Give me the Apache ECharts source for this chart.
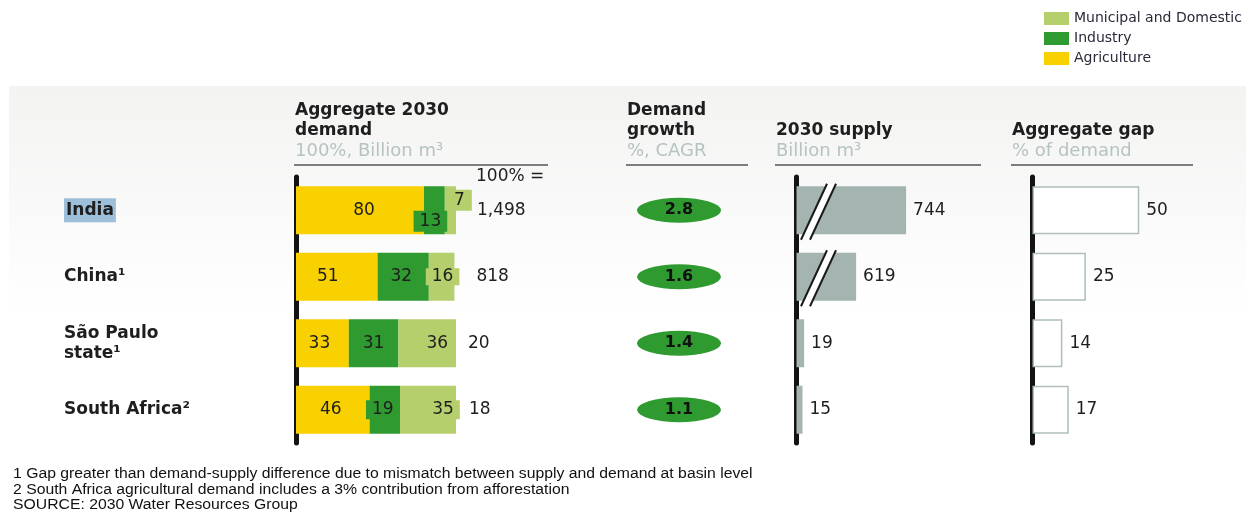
<!DOCTYPE html>
<html>
<head>
<meta charset="utf-8">
<title>2030 water demand and supply</title>
<script src="https://cdn.jsdelivr.net/npm/echarts@6/dist/echarts.min.js"></script>
<style>
  html, body { margin: 0; padding: 0; background: #ffffff; }
  #chart { width: 1246px; height: 512px; }
</style>
</head>
<body>
<div id="chart"></div>
<script>
// Regions, top to bottom
const regions = ['India', 'China¹', 'São Paulo\nstate¹', 'South Africa²'];

// Aggregate 2030 demand, share by sector (%)
const agriculture = [80, 51, 33, 46];
const industry = [13, 32, 31, 19];
const municipal = [7, 16, 36, 35];

// Aggregate 2030 demand, billion m³
const totalDemand = [1498, 818, 20, 18];

// Demand growth, % CAGR
const demandGrowth = [2.8, 1.6, 1.4, 1.1];

// 2030 supply, billion m³
const supply2030 = [744, 619, 19, 15];

// Aggregate gap, % of demand
const aggregateGap = [50, 25, 14, 17];

// Collapsed stretch of the supply axis
const supplyBreak = { start: 55, end: 525 };

const sectorNames = ['Agriculture', 'Industry', 'Municipal and Domestic'];

const COLORS = {
  agriculture: '#f9d000',
  industry: '#2f9a30',
  municipal: '#b6cf6d',
  growth: '#2f9a30',
  supply: '#a4b4b1',
  gapBorder: '#aebfbd',
  axis: '#131313',
  text: '#1e1e1e',
  sub: '#b6c3c3',
  rule: '#555555'
};
const FONT = '"DejaVu Sans", sans-serif';
const NOTE_FONT = '"Liberation Sans", Arial, sans-serif';

// Per-segment label placement inside the stacked demand bars
const segLabel = {
  agriculture: { 0: { offset: [4, 0] }, 1: { offset: [-9, 0] }, 2: { offset: [-3, 0] }, 3: { offset: [-2, 0] } },
  industry: {
    0: { offset: [-4, 11], backgroundColor: COLORS.industry, padding: [2, 6] },
    1: { offset: [-2, 0] },
    3: { offset: [-2, 0], backgroundColor: COLORS.industry, padding: [1, 6] }
  },
  municipal: {
    0: { offset: [9, -10], backgroundColor: COLORS.municipal, padding: [2, 7] },
    1: { offset: [1, 0], backgroundColor: COLORS.municipal, padding: [0, 6] },
    2: { offset: [10, 0] },
    3: { offset: [15, 0], backgroundColor: COLORS.municipal, padding: [1, 6] }
  }
};
const totalLabelGap = [21, 22, 12, 13];

function segData(values, key) {
  return values.map((v, i) => {
    const extra = segLabel[key][i];
    return extra ? { value: v, label: extra } : v;
  });
}

const rowsTop = 177;
const rowsHeight = 266;
const barWidth = 48;

function rowAxis(gridIndex, withLine) {
  return {
    type: 'category',
    gridIndex: gridIndex,
    data: regions,
    inverse: true,
    offset: withLine ? 2.5 : 0,
    axisLine: { show: withLine, lineStyle: { color: COLORS.axis, width: 5 } },
    axisTick: { show: false },
    axisLabel: { show: false },
    splitLine: { show: false }
  };
}

const hiddenValueAxis = (gridIndex, min, max) => ({
  type: 'value', gridIndex: gridIndex, min: min, max: max, show: false
});

const demandYAxis = rowAxis(0, true);
demandYAxis.axisLabel = {
  show: true,
  align: 'left',
  margin: 229.5,
  formatter: v => v === 'India'
    ? '{hl|India}'
    : v.split('\n').map(s => '{b|' + s + '}').join('\n'),
  rich: {
    b: { fontFamily: FONT, fontWeight: 'bold', fontSize: 17, color: COLORS.text, lineHeight: 20 },
    hl: { fontFamily: FONT, fontWeight: 'bold', fontSize: 17, color: COLORS.text,
          backgroundColor: '#9ebfd9', padding: [4, 2, 3, 2] }
  }
};

const demandSums = agriculture.map((v, i) => v + industry[i] + municipal[i]);

const segLabelBase = {
  show: true, position: 'inside', color: COLORS.text, fontSize: 17, fontFamily: FONT
};

// Double slash marking the collapsed part of long supply bars
function renderSlash(params, api) {
  const c = api.coord([api.value(0), api.value(1)]);
  const cx = c[0], cy = c[1] + 1.5;
  const h = 28, skew = 13, half = 4.5;
  const bl = [cx - skew - half, cy + h], tl = [cx + skew - half, cy - h];
  const tr = [cx + skew + half, cy - h], br = [cx - skew + half, cy + h];
  return {
    type: 'group',
    children: [
      { type: 'polygon', shape: { points: [bl, tl, tr, br] }, style: { fill: '#ffffff' } },
      { type: 'line', shape: { x1: bl[0], y1: bl[1], x2: tl[0], y2: tl[1] },
        style: { stroke: '#1a1a1a', lineWidth: 2 } },
      { type: 'line', shape: { x1: br[0], y1: br[1], x2: tr[0], y2: tr[1] },
        style: { stroke: '#1a1a1a', lineWidth: 2 } }
    ]
  };
}

function headerText(text, x, y, bold, color) {
  return {
    type: 'text', x: x, y: y, silent: true,
    style: {
      text: text, fill: color || COLORS.text,
      font: (bold ? 'bold 17px ' : '18px ') + FONT,
      textVerticalAlign: 'middle'
    }
  };
}
function rule(x1, x2) {
  return {
    type: 'line', silent: true,
    shape: { x1: x1, y1: 165, x2: x2, y2: 165 },
    style: { stroke: COLORS.rule, lineWidth: 1.5 }
  };
}
// Footnotes: Liberation Sans, widened slightly
function note(text, y) {
  return {
    type: 'text', x: 13, y: y, scaleX: 1.125, silent: true,
    style: { text: text, fill: '#111', font: '14px ' + NOTE_FONT, textVerticalAlign: 'middle' }
  };
}

const option = {
  animation: false,
  textStyle: { fontFamily: FONT },
  legend: {
    orient: 'vertical',
    left: 1039,
    top: 6.5,
    itemWidth: 25,
    itemHeight: 13,
    itemGap: 6,
    icon: 'rect',
    selectedMode: false,
    data: ['Municipal and Domestic', 'Industry', 'Agriculture'],
    textStyle: { fontFamily: FONT, fontSize: 14, color: '#2a2a3a', lineHeight: 13 }
  },
  graphic: [
    {
      type: 'rect', silent: true, z: -10,
      shape: { x: 9, y: 86, width: 1237, height: 380 },
      style: {
        fill: new echarts.graphic.LinearGradient(0, 0, 0, 1, [
          { offset: 0, color: '#f3f3f2' },
          { offset: 0.6, color: '#ffffff' },
          { offset: 1, color: '#ffffff' }
        ])
      }
    },
    headerText('Aggregate 2030', 295, 111, true),
    headerText('demand', 295, 131, true),
    headerText('100%, Billion m³', 295, 151, false, COLORS.sub),
    rule(294, 548),
    headerText('Demand', 627, 111, true),
    headerText('growth', 627, 131, true),
    headerText('%, CAGR', 627, 151, false, COLORS.sub),
    rule(626, 748),
    headerText('2030 supply', 776, 131, true),
    headerText('Billion m³', 776, 151, false, COLORS.sub),
    rule(775, 981),
    headerText('Aggregate gap', 1012, 131, true),
    headerText('% of demand', 1012, 151, false, COLORS.sub),
    rule(1011, 1193),
    {
      type: 'text', x: 476, y: 177, silent: true,
      style: { text: '100% =', fill: COLORS.text, font: '17px ' + FONT, textVerticalAlign: 'middle' }
    },
    note('1 Gap greater than demand-supply difference due to mismatch between supply and demand at basin level', 474),
    note('2 South Africa agricultural demand includes a 3% contribution from afforestation', 490),
    note('SOURCE: 2030 Water Resources Group', 505)
  ],
  grid: [
    { left: 296, top: rowsTop, width: 160, height: rowsHeight },
    { left: 636, top: rowsTop, width: 86, height: rowsHeight },
    { left: 796.5, top: rowsTop, width: 200, height: rowsHeight },
    { left: 1032.5, top: rowsTop, width: 222, height: rowsHeight }
  ],
  xAxis: [
    hiddenValueAxis(0, 0, 100),
    hiddenValueAxis(1, -1, 1),
    {
      type: 'value', gridIndex: 2, min: 0, max: 970,
      breaks: [{ start: supplyBreak.start, end: supplyBreak.end, gap: 0 }],
      breakArea: { show: false },
      axisLine: { show: false }, axisTick: { show: false },
      axisLabel: { show: false }, splitLine: { show: false }
    },
    hiddenValueAxis(3, 0, 100)
  ],
  yAxis: [demandYAxis, rowAxis(1, false), rowAxis(2, true), rowAxis(3, true)],
  series: [
    {
      name: sectorNames[0], type: 'bar', stack: 'demand', xAxisIndex: 0, yAxisIndex: 0,
      barWidth: barWidth, barGap: '-100%',
      itemStyle: { color: COLORS.agriculture },
      label: segLabelBase,
      data: segData(agriculture, 'agriculture')
    },
    {
      name: sectorNames[1], type: 'bar', stack: 'demand', xAxisIndex: 0, yAxisIndex: 0,
      barWidth: barWidth, barGap: '-100%',
      itemStyle: { color: COLORS.industry },
      label: segLabelBase,
      data: segData(industry, 'industry')
    },
    {
      name: sectorNames[2], type: 'bar', stack: 'demand', xAxisIndex: 0, yAxisIndex: 0,
      barWidth: barWidth, barGap: '-100%',
      itemStyle: { color: COLORS.municipal },
      label: segLabelBase,
      data: segData(municipal, 'municipal')
    },
    {
      name: 'Total demand', type: 'bar', xAxisIndex: 0, yAxisIndex: 0,
      barWidth: barWidth, barGap: '-100%', z: 1, silent: true,
      itemStyle: { color: 'rgba(0,0,0,0)' },
      data: demandSums.map((v, i) => ({
        value: v,
        label: {
          show: true, position: 'right', distance: totalLabelGap[i],
          color: COLORS.text, fontSize: 17, fontFamily: FONT,
          formatter: () => totalDemand[i].toLocaleString('en-US')
        }
      }))
    },
    {
      name: 'Demand growth', type: 'scatter', xAxisIndex: 1, yAxisIndex: 1,
      symbol: 'circle', symbolSize: [84, 25],
      itemStyle: { color: COLORS.growth, opacity: 1 },
      label: {
        show: true, position: 'inside', color: '#111', fontSize: 16,
        fontWeight: 'bold', fontFamily: FONT,
        formatter: p => p.value[2].toFixed(1)
      },
      data: demandGrowth.map((g, i) => [0, i, g])
    },
    {
      name: '2030 supply', type: 'bar', xAxisIndex: 2, yAxisIndex: 2,
      barWidth: barWidth,
      itemStyle: { color: COLORS.supply },
      label: { show: true, position: 'right', distance: 7, color: COLORS.text, fontSize: 17, fontFamily: FONT },
      data: supply2030
    },
    {
      name: 'Supply break', type: 'custom', xAxisIndex: 2, yAxisIndex: 2, z: 5, silent: true,
      renderItem: renderSlash,
      data: supply2030
        .map((v, i) => (v > supplyBreak.end ? [supplyBreak.start, i] : null))
        .filter(d => d !== null)
    },
    {
      name: 'Aggregate gap', type: 'bar', xAxisIndex: 3, yAxisIndex: 3,
      barWidth: barWidth,
      itemStyle: { color: '#ffffff', borderColor: COLORS.gapBorder, borderWidth: 1.5 },
      label: { show: true, position: 'right', distance: 7, color: COLORS.text, fontSize: 17, fontFamily: FONT },
      data: aggregateGap
    }
  ]
};

const chart = echarts.init(document.getElementById('chart'), null, { renderer: 'canvas' });
chart.setOption(option);
</script>
</body>
</html>
